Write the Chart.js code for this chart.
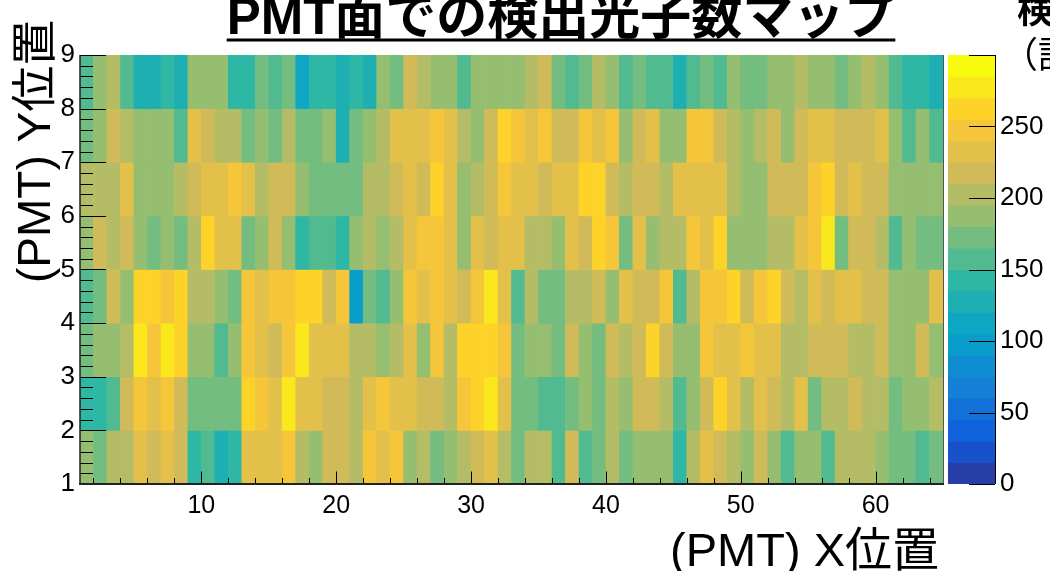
<!DOCTYPE html>
<html>
<head>
<meta charset="utf-8">
<script src="https://cdn.jsdelivr.net/npm/chart.js@4.4.1/dist/chart.umd.min.js"></script>
<style>
  html, body { margin: 0; padding: 0; background: #fff; }
  #wrap { position: relative; width: 1050px; height: 571px; overflow: hidden; }
  #main { position: absolute; left: 0; top: 0; }
  #zbar { position: absolute; left: 940px; top: 0; }
</style>
</head>
<body>
<div id="wrap">
  <canvas id="main" width="1050" height="571"></canvas>
  <canvas id="zbar" width="110" height="571"></canvas>
</div>
<script>
// PMT面 64 x 8, 1ビン = 1 PMT。rowY1 が y=1..2, rowY8 が y=8..9
const rowY1 = [187,172,202,202,232,217,232,217,142,157,127,142,232,232,232,247, 202,187,217,217,202,247,232,247,187,202,172,187,202,217,232,202, 172,202,202,157,217,157,172,202,172,187,187,187,142,202,232,217, 202,187,217,187,157,187,187,157,202,202,202,187,172,172,157,172];
const rowY2 = [142,142,157,217,247,232,247,217,172,172,172,172,262,247,232,277, 232,232,217,217,202,232,247,232,232,217,217,202,247,262,277,232, 172,172,157,157,172,187,172,202,187,217,217,202,157,187,217,262, 232,202,232,217,202,232,172,202,202,217,202,202,172,187,187,202];
const rowY3 = [172,187,187,202,277,247,277,262,187,187,157,187,247,232,217,247, 277,232,232,232,202,202,187,202,232,187,247,202,262,262,262,247, 172,187,187,172,217,187,172,217,202,217,262,217,187,187,247,232, 232,247,232,232,202,202,217,217,217,202,202,217,187,187,217,187];
const rowY4 = [157,172,217,187,262,262,247,262,202,202,187,172,247,232,247,247, 262,262,217,247,97,172,157,187,247,232,247,232,217,247,277,232, 157,202,172,172,202,202,217,187,232,217,217,247,157,202,247,247, 262,217,247,262,217,202,232,217,232,232,217,217,187,187,187,232];
const rowY5 = [187,217,202,217,187,172,187,172,202,262,232,232,172,187,217,187, 142,157,157,142,187,202,187,202,232,247,247,232,187,232,217,232, 232,202,202,187,232,217,262,247,172,232,187,202,202,247,232,262, 187,187,187,202,202,232,247,277,172,217,217,202,157,187,172,172];
const rowY6 = [202,202,202,232,187,187,187,202,217,232,232,247,232,202,217,217, 187,172,172,172,172,202,202,217,232,217,262,232,187,202,217,247, 232,232,217,232,232,262,262,217,202,217,217,202,232,232,232,232, 202,187,187,217,217,217,247,262,217,232,217,217,187,187,187,187];
const rowY7 = [172,187,217,202,187,187,187,157,232,217,202,202,172,187,172,202, 172,172,187,127,172,187,202,232,232,232,247,232,202,187,217,262, 247,232,247,217,217,247,232,247,187,217,232,187,187,247,247,217, 202,187,202,217,187,217,232,232,217,217,217,232,187,157,187,157];
const rowY8 = [157,187,202,157,127,127,142,127,187,187,187,142,142,172,157,172, 112,142,142,127,142,127,187,172,217,202,187,187,157,187,187,187, 187,202,217,172,157,172,202,187,157,172,157,157,127,157,172,157, 187,172,172,187,187,202,187,187,172,187,202,187,157,142,142,127];

const xRange = [1, 65];
const yRange = [1, 9];
const zRange = [0, 300];
const nContours = 20;
const xTickLabels = [10, 20, 30, 40, 50, 60];
const yTickLabels = [1, 2, 3, 4, 5, 6, 7, 8, 9];
const zTickLabels = [0, 50, 100, 150, 200, 250];

const titleText = 'PMT面での検出光子数マップ';
const xTitle = '(PMT) X位置';
const yTitle = '(PMT) Y位置';
const zTitle = ['検出光子数', '（計数）'];

// ROOT kBird パレット
const birdStops = [0, 0.125, 0.25, 0.375, 0.5, 0.625, 0.75, 0.875, 1];
const birdR = [0.2082, 0.0592, 0.0780, 0.0232, 0.1802, 0.5301, 0.8186, 0.9956, 0.9764];
const birdG = [0.1664, 0.3599, 0.5041, 0.6419, 0.7178, 0.7492, 0.7328, 0.7862, 0.9832];
const birdB = [0.5293, 0.8684, 0.8385, 0.7914, 0.6425, 0.4662, 0.3499, 0.1968, 0.0539];

function bird(f) {
  let k = 0;
  while (k < birdStops.length - 2 && f > birdStops[k + 1]) k++;
  const t = (f - birdStops[k]) / (birdStops[k + 1] - birdStops[k]);
  const c = arr => Math.round(255 * (arr[k] + (arr[k + 1] - arr[k]) * t));
  return 'rgb(' + c(birdR) + ',' + c(birdG) + ',' + c(birdB) + ')';
}

function zColor(v) {
  let band = Math.floor((v - zRange[0]) / (zRange[1] - zRange[0]) * nContours);
  band = Math.max(0, Math.min(nContours - 1, band));
  const idx = Math.floor((band + 0.99) * 255 / nContours);
  return bird(Math.min(idx, 254) / 254);
}

const rowsY = [rowY1, rowY2, rowY3, rowY4, rowY5, rowY6, rowY7, rowY8];
const cells = [];
const cellColors = [];
rowsY.forEach((row, j) => {
  row.forEach((v, i) => {
    cells.push({ x: xRange[0] + i + 0.5, y: [yRange[0] + j, yRange[0] + j + 1] });
    cellColors.push(zColor(v));
  });
});

const zStep = (zRange[1] - zRange[0]) / nContours;
const bands = [];
const bandColors = [];
for (let k = 0; k < nContours; k++) {
  const lo = zRange[0] + k * zStep;
  bands.push({ x: 0.5, y: [lo, lo + zStep] });
  bandColors.push(zColor(lo + zStep / 2));
}

const latin = "'Liberation Sans', 'Noto Sans CJK JP', sans-serif";
const cjk = "'Noto Sans CJK JP', 'Liberation Sans', sans-serif";

// ROOT風の内向き目盛りと軸線
const frameTicks = {
  id: 'frameTicks',
  afterDatasetsDraw(chart) {
    const { ctx, chartArea: a, scales: { x, y } } = chart;
    ctx.save();
    ctx.strokeStyle = '#000';
    ctx.lineWidth = 1;
    ctx.beginPath();
    for (let v = 2; v < xRange[1]; v += 2) {
      const px = Math.round(x.getPixelForValue(v)) + 0.5;
      const len = xTickLabels.includes(v) ? 12.5 : 6;
      ctx.moveTo(px, a.bottom);
      ctx.lineTo(px, a.bottom - len);
    }
    for (let v = yRange[0]; v <= yRange[1] + 1e-6; v += 0.2) {
      const py = Math.round(y.getPixelForValue(v)) + 0.5;
      const major = Math.abs(v - Math.round(v)) < 1e-6;
      ctx.moveTo(a.left, py);
      ctx.lineTo(a.left + (major ? 26 : 13), py);
    }
    ctx.stroke();

    ctx.strokeStyle = '#555';
    ctx.beginPath();
    ctx.moveTo(a.right + 0.5, a.top);
    ctx.lineTo(a.right + 0.5, a.bottom);
    ctx.stroke();

    ctx.strokeStyle = '#222';
    ctx.lineWidth = 1.5;
    ctx.beginPath();
    ctx.moveTo(a.left, a.top);
    ctx.lineTo(a.left, a.bottom);
    ctx.stroke();
    ctx.lineWidth = 2;
    ctx.beginPath();
    ctx.moveTo(a.left - 1, a.bottom);
    ctx.lineTo(a.right + 1, a.bottom);
    ctx.stroke();
    ctx.restore();
  },
  afterDraw(chart) {
    const ctx = chart.ctx;
    ctx.save();
    ctx.fillStyle = '#000';
    ctx.textBaseline = 'alphabetic';

    // タイトル（上が切れている）
    ctx.font = 'bold 51px ' + latin;
    ctx.textAlign = 'center';
    const tx = 561;
    ctx.fillText(titleText, tx, 34);
    const tw = ctx.measureText(titleText).width;
    ctx.fillRect(tx - tw / 2, 38.5, tw, 3);

    // X 軸タイトル
    ctx.font = '47px ' + latin;
    ctx.textAlign = 'right';
    ctx.fillText(xTitle, 939, 566);

    // Y 軸タイトル
    ctx.save();
    ctx.translate(50, 283);
    ctx.rotate(-Math.PI / 2);
    ctx.font = '46px ' + latin;
    ctx.textAlign = 'left';
    ctx.fillText(yTitle, 0, 0);
    ctx.restore();

    // Z 軸タイトル（右上、切れている）
    ctx.textAlign = 'left';
    ctx.font = 'bold 36px ' + cjk;
    ctx.fillText(zTitle[0], 1017, 23);
    ctx.font = '36px ' + cjk;
    ctx.fillText(zTitle[1], 1002, 68);
    ctx.restore();
  }
};

new Chart(document.getElementById('main'), {
  type: 'bar',
  data: {
    datasets: [{
      data: cells,
      backgroundColor: cellColors,
      borderWidth: 0,
      barPercentage: 1,
      categoryPercentage: 1
    }]
  },
  options: {
    responsive: false,
    animation: false,
    devicePixelRatio: 1,
    events: [],
    layout: { padding: { left: 0, top: 55, right: 107, bottom: 0 } },
    plugins: { legend: { display: false }, tooltip: { enabled: false }, title: { display: false } },
    scales: {
      x: {
        type: 'linear',
        min: xRange[0],
        max: xRange[1],
        offset: false,
        grid: { display: false, drawTicks: false },
        border: { display: false },
        afterBuildTicks: s => { s.ticks = xTickLabels.map(v => ({ value: v })); },
        afterFit: s => { s.height = 571 - 484; },
        ticks: { color: '#000', font: { family: latin, size: 25 }, padding: 7, maxRotation: 0, autoSkip: false }
      },
      y: {
        type: 'linear',
        min: yRange[0],
        max: yRange[1],
        grid: { display: false, drawTicks: false },
        border: { display: false },
        afterBuildTicks: s => { s.ticks = yTickLabels.map(v => ({ value: v })); },
        afterFit: s => { s.width = 80; },
        ticks: { color: '#000', font: { family: latin, size: 26 }, padding: 5 }
      }
    }
  },
  plugins: [frameTicks]
});

// カラーバー
const barTicks = {
  id: 'barTicks',
  afterDatasetsDraw(chart) {
    const { ctx, chartArea: a, scales: { z } } = chart;
    ctx.save();
    ctx.strokeStyle = '#000';
    ctx.lineWidth = 1;
    ctx.beginPath();
    zTickLabels.concat([zRange[1]]).forEach(v => {
      const py = Math.round(z.getPixelForValue(v)) + 0.5;
      ctx.moveTo(a.right, py);
      ctx.lineTo(a.right - 26, py);
    });
    ctx.moveTo(a.right + 0.5, a.top);
    ctx.lineTo(a.right + 0.5, a.bottom);
    ctx.stroke();
    ctx.restore();
  }
};

new Chart(document.getElementById('zbar'), {
  type: 'bar',
  data: {
    datasets: [{
      data: bands,
      backgroundColor: bandColors,
      borderWidth: 0,
      barPercentage: 1,
      categoryPercentage: 1,
      yAxisID: 'z'
    }]
  },
  options: {
    responsive: false,
    animation: false,
    devicePixelRatio: 1,
    events: [],
    layout: { padding: { left: 8, top: 55, right: 0, bottom: 87 } },
    plugins: { legend: { display: false }, tooltip: { enabled: false } },
    scales: {
      x: {
        type: 'linear',
        min: 0,
        max: 1,
        offset: false,
        grid: { display: false, drawTicks: false },
        border: { display: false },
        ticks: { display: false },
        afterBuildTicks: s => { s.ticks = [{ value: 0 }, { value: 1 }]; },
        afterFit: s => { s.height = 0; }
      },
      z: {
        type: 'linear',
        position: 'right',
        min: zRange[0],
        max: zRange[1],
        grid: { display: false, drawTicks: false },
        border: { display: false },
        afterBuildTicks: s => { s.ticks = zTickLabels.map(v => ({ value: v })); },
        afterFit: s => { s.width = 55; },
        ticks: { color: '#000', font: { family: latin, size: 26 }, padding: 5 }
      }
    }
  },
  plugins: [barTicks]
});
</script>
</body>
</html>
